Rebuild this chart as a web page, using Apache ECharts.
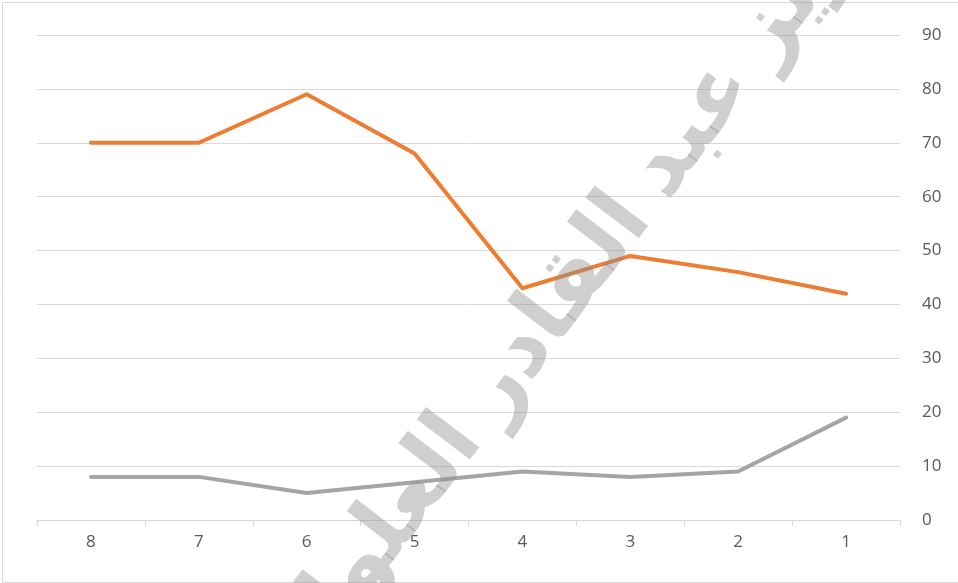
<!DOCTYPE html>
<html><head><meta charset="utf-8">
<script src="https://cdn.jsdelivr.net/npm/echarts@6/dist/echarts.min.js"></script>
<style>html,body{margin:0;padding:0;background:#fff}#c{width:958px;height:583px}</style>
</head><body><div id="c"></div>
<script>
const categories = ['8','7','6','5','4','3','2','1'];
const orangeSeries = [70,70,79,68,43,49,46,42];
const graySeries = [8,8,5,7,9,8,9,19];
const yTicks = {min:0, max:90, interval:10};
const watermarkText = 'عزيز عبد القادر العلواني';

const chart = echarts.init(document.getElementById('c'));
chart.setOption({
  animation:false,
  backgroundColor:'#fff',
  grid:{left:37,right:58,top:35,bottom:63},
  xAxis:{type:'category',data:categories,boundaryGap:true,
    axisLine:{lineStyle:{color:'#d9d9d9',width:1}},
    axisTick:{show:true,length:6,interval:0,lineStyle:{color:'#d9d9d9'}},
    axisLabel:{color:'#595959',fontSize:17,margin:14,fontFamily:'Open Sans'},
    splitLine:{show:false}},
  yAxis:{type:'value',position:'right',min:yTicks.min,max:yTicks.max,interval:yTicks.interval,
    axisLine:{show:false},axisTick:{show:false},
    axisLabel:{color:'#595959',fontSize:17,margin:22,fontFamily:'Open Sans'},
    splitLine:{lineStyle:{color:'#d9d9d9',width:1}}},
  series:[
    {type:'line',data:orangeSeries,symbol:'none',lineStyle:{color:'#ED7D31',width:4,cap:'round',join:'round'}},
    {type:'line',data:graySeries,symbol:'none',lineStyle:{color:'#A5A5A5',width:4,cap:'round',join:'round'}}
  ],
  graphic:[
    {type:'rect',left:0,top:0,shape:{x:0,y:0,width:957,height:580},style:{fill:'none',stroke:'#d9d9d9',lineWidth:1},silent:true},
    {type:'text',x:560,y:300,rotation:0.92,z:100,silent:true,
      style:{text:watermarkText,fontSize:88,fontWeight:'bold',fontFamily:'Noto Sans, DejaVu Sans',fill:'rgba(140,140,140,0.42)',align:'center',verticalAlign:'middle'}}
  ]
});
</script></body></html>
